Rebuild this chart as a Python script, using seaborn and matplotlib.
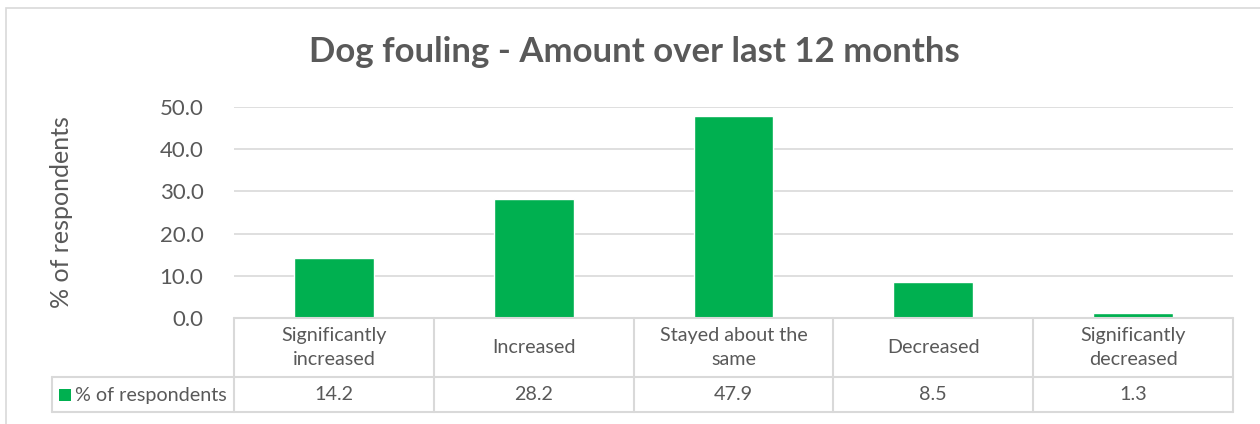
import matplotlib
matplotlib.use("Agg")
import matplotlib.pyplot as plt
import matplotlib.transforms as mtransforms
from matplotlib.patches import Rectangle
from matplotlib.lines import Line2D
import seaborn as sns
import pandas as pd

categories = ["Significantly\nincreased", "Increased", "Stayed about the\nsame",
              "Decreased", "Significantly\ndecreased"]
values = [14.2, 28.2, 47.9, 8.5, 1.3]
value_labels = ["14.2", "28.2", "47.9", "8.5", "1.3"]
series_name = "% of respondents"
title = "Dog fouling - Amount over last 12 months"
yticks = [0, 10, 20, 30, 40, 50]

sns.set_theme(style="white")
plt.rcParams["font.family"] = ["Lato", "DejaVu Sans"]

TEXT = "#595959"
GRID = "#D9D9D9"
GREEN = "#00B050"

W, H = 1260, 424
fig = plt.figure(figsize=(W / 100, H / 100), dpi=100)

def fx(px):
    return px / W

def fy(py):
    return 1 - py / H

ax = fig.add_axes([fx(234), fy(318), fx(1233) - fx(234), fy(107) - fy(318)])

df = pd.DataFrame({"category": categories, "value": values})
sns.barplot(data=df, x="category", y="value", color=GREEN, width=0.4,
            saturation=1, ax=ax, zorder=3)

ax.set_xlim(-0.5, 4.5)
ax.set_ylim(0, 50)
ax.set_yticks(yticks)
ax.set_yticklabels([f"{v:.1f}" for v in yticks], fontsize=16, color=TEXT)
ax.tick_params(axis="y", length=0, pad=22)
ax.set_xticks([])
ax.set_xlabel("")
ax.set_ylabel(series_name, fontsize=18, color=TEXT, labelpad=62)
ax.yaxis.grid(True, color=GRID, linewidth=1.2, zorder=0)
ax.set_axisbelow(True)
for s in ax.spines.values():
    s.set_visible(False)

fig.text(fx(634), fy(52), title, fontsize=25, fontweight="bold",
         color=TEXT, ha="center", va="center")

# data table
trans = mtransforms.blended_transform_factory(ax.transData, ax.transAxes)
axh = 318 - 107
r0 = 0.0
r1 = -(377 - 318) / axh
r2 = -(412 - 318) / axh
colw = (1233 - 234) / 5.0
left_x = -0.5 - (234 - 52) / colw

def line(xs, ys):
    ax.add_line(Line2D(xs, ys, transform=trans, color=GRID, linewidth=1.5,
                       clip_on=False, zorder=4))

line([-0.5, 4.5], [r0, r0])
line([left_x, 4.5], [r1, r1])
line([left_x, 4.5], [r2, r2])
line([left_x, left_x], [r1, r2])
for i in range(6):
    line([i - 0.5, i - 0.5], [r0, r2])

for i, (c, v) in enumerate(zip(categories, value_labels)):
    ax.text(i, (r0 + r1) / 2, c, transform=trans, ha="center", va="center",
            fontsize=14.2, color=TEXT, linespacing=1.45, clip_on=False)
    ax.text(i, (r1 + r2) / 2, v, transform=trans, ha="center", va="center",
            fontsize=14.2, color=TEXT, clip_on=False)

# legend key in table
fig.add_artist(Rectangle((fx(59), fy(401)), fx(12), fy(389) - fy(401),
                         transform=fig.transFigure, facecolor=GREEN,
                         edgecolor="none"))
fig.text(fx(75), fy(395), series_name, fontsize=14.2, color=TEXT,
         ha="left", va="center")

# outer chart border
fig.add_artist(Rectangle((fx(6), fy(440)), fx(1300) - fx(6), fy(8) - fy(440),
                         transform=fig.transFigure, facecolor="none",
                         edgecolor=GRID, linewidth=1.2))

fig.savefig("out.png", dpi=100)
